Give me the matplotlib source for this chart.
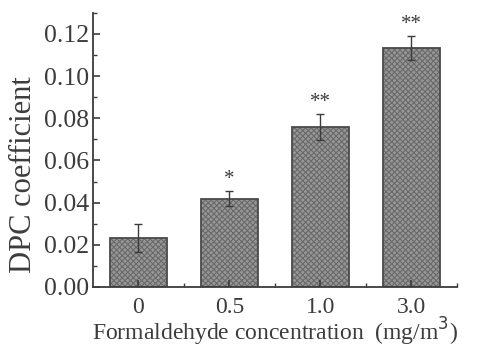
import matplotlib
matplotlib.use("Agg")
import matplotlib.pyplot as plt
from matplotlib.ticker import MultipleLocator, FormatStrFormatter

# Data
concentrations = ["0", "0.5", "1.0", "3.0"]
dpc_mean = [0.0233, 0.0419, 0.0758, 0.1133]
dpc_err = [0.0067, 0.0035, 0.0060, 0.0058]
significance = ["", "*", "**", "**"]

plt.rcParams["font.family"] = ["Liberation Serif", "DejaVu Serif"]
plt.rcParams["hatch.linewidth"] = 0.8
ink = "#3c3c3c"

fig = plt.figure(figsize=(4.84, 3.49), dpi=100)
ax = fig.add_axes([0.192, 0.178, 0.752, 0.785])

x = list(range(len(concentrations)))
# textured fill, then a darker outline on top
ax.bar(x, dpc_mean, width=0.62, color="#979797", edgecolor="#6a6a6a",
       linewidth=0, hatch="xxxxxx", zorder=1)
ax.bar(x, dpc_mean, width=0.62, fill=False, edgecolor="#4a4a4a",
       linewidth=1.3, zorder=1.5)
ax.errorbar(x, dpc_mean, yerr=dpc_err, fmt="none", ecolor=ink,
            elinewidth=1.0, capsize=3, capthick=1.0, zorder=3)

for xi, m, e, s in zip(x, dpc_mean, dpc_err, significance):
    if s:
        ax.text(xi, m + e + 0.0010, s, ha="center", va="bottom",
                fontsize=15, color=ink)

ax.set_xlim(-0.5, 3.5)
ax.set_ylim(0.0, 0.13)
ax.set_xticks(x)
ax.set_xticklabels(concentrations)
ax.set_xticks([0.5, 1.5, 2.5, 3.5], minor=True)
ax.yaxis.set_major_locator(MultipleLocator(0.02))
ax.yaxis.set_minor_locator(MultipleLocator(0.01))
ax.yaxis.set_major_formatter(FormatStrFormatter("%.2f"))

for side in ("top", "right"):
    ax.spines[side].set_visible(False)
for side in ("left", "bottom"):
    ax.spines[side].set_color(ink)
    ax.spines[side].set_linewidth(1.3)

ax.tick_params(axis="both", which="major", direction="in", length=5,
               width=1.2, color=ink, labelcolor=ink, labelsize=18.5, pad=3)
ax.tick_params(axis="x", which="major", labelsize=17, pad=7)
ax.tick_params(axis="both", which="minor", direction="in", length=3,
               width=1.0, color=ink)

ax.set_ylabel("DPC coefficient", fontsize=22, color=ink)
ax.yaxis.set_label_coords(-0.15, 0.41)
ax.set_xlabel("Formaldehyde concentration  (mg/m$^3$)", fontsize=17,
              color=ink)
ax.xaxis.set_label_coords(0.5, -0.104)

fig.savefig("out.png", dpi=100)
